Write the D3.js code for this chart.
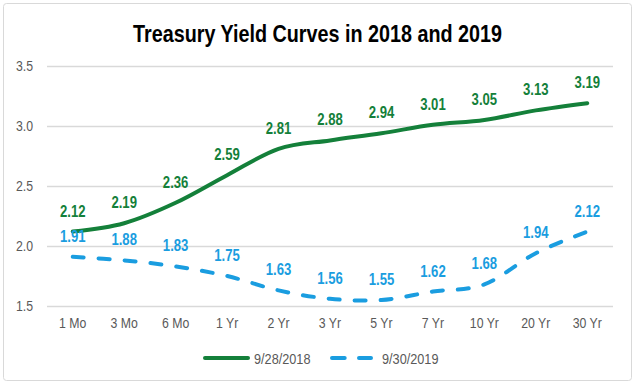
<!DOCTYPE html>
<html>
<head>
<meta charset="utf-8">
<script src="https://cdn.jsdelivr.net/npm/d3@7"></script>
<style>
  body { margin: 0; background: #fff; }
  text { font-family: "Liberation Sans Narrow", "Arial Narrow", "Liberation Sans", Arial, sans-serif; }
</style>
</head>
<body>
<div id="chart"></div>
<script>
// data
var maturities = ['1 Mo', '3 Mo', '6 Mo', '1 Yr', '2 Yr', '3 Yr', '5 Yr', '7 Yr', '10 Yr', '20 Yr', '30 Yr'];
var yields2018 = [2.12, 2.19, 2.36, 2.59, 2.81, 2.88, 2.94, 3.01, 3.05, 3.13, 3.19];
var yields2019 = [1.91, 1.88, 1.83, 1.75, 1.63, 1.56, 1.55, 1.62, 1.68, 1.94, 2.12];
var yTicks = [1.5, 2.0, 2.5, 3.0, 3.5];
var seriesNames = ['9/28/2018', '9/30/2019'];

var svgWidth = 635;
var svgHeight = 385;

var margin = { top: 66, right: 22, bottom: 79, left: 47 };
var width = svgWidth - margin.left - margin.right;
var height = svgHeight - margin.top - margin.bottom;

var green = '#14803a';
var blue = '#1a9de0';
// narrow font squeeze (no Arial Narrow in the sandbox)
var sq = 0.82;

var svg = d3.select('#chart').append('svg')
  .attr('width', svgWidth)
  .attr('height', svgHeight);

// outer border
svg.append('rect')
  .attr('x', 3.5).attr('y', 3.5)
  .attr('width', 628).attr('height', 377)
  .attr('rx', 3)
  .attr('fill', '#fff')
  .attr('stroke', '#d9d9d9');

// title
svg.append('text')
  .attr('x', 133)
  .attr('y', 42)
  .attr('font-size', '24px')
  .attr('font-weight', 'bold')
  .attr('fill', '#000')
  .attr('textLength', 369)
  .attr('lengthAdjust', 'spacingAndGlyphs')
  .text('Treasury Yield Curves in 2018 and 2019');

var chartGroup = svg.append('g')
  .attr('transform', `translate(${margin.left}, ${margin.top})`);

var x = d3.scaleBand().domain(maturities).range([0, width]);
var y = d3.scaleLinear().domain([1.5, 3.5]).range([height, 0]);

// gridlines
chartGroup.selectAll('.grid')
  .data(yTicks)
  .enter()
  .append('line')
  .attr('x1', 0).attr('x2', width)
  .attr('y1', d => Math.round(y(d)) + 0.5)
  .attr('y2', d => Math.round(y(d)) + 0.5)
  .attr('stroke', '#d9d9d9')
  .attr('stroke-width', 1.5);

// y axis labels
var leftAxis = d3.axisLeft(y).tickValues(yTicks).tickFormat(d3.format('.1f')).tickSize(0).tickPadding(14);
var yAxis = chartGroup.append('g').call(leftAxis);
yAxis.select('.domain').remove();
yAxis.selectAll('text')
  .attr('font-size', '15px')
  .attr('fill', '#595959')
  .attr('font-family', null)
  .attr('x', -14 / sq)
  .attr('transform', `scale(${sq},1)`);

// x axis labels
var bottomAxis = d3.axisBottom(x).tickSize(0).tickPadding(11);
var xAxis = chartGroup.append('g')
  .attr('transform', `translate(0, ${height})`)
  .call(bottomAxis);
xAxis.select('.domain').remove();
xAxis.selectAll('text')
  .attr('font-size', '15px')
  .attr('fill', '#595959')
  .attr('font-family', null)
  .attr('transform', `scale(${sq},1)`);

var cx = d => x.bandwidth() / 2 + x(d);

var line = d3.line()
  .x((d, i) => cx(maturities[i]))
  .y(d => y(d))
  .curve(d3.curveCatmullRom.alpha(0));

chartGroup.append('path')
  .datum(yields2019)
  .attr('d', line)
  .attr('fill', 'none')
  .attr('stroke', blue)
  .attr('stroke-width', 4)
  .attr('stroke-linecap', 'round')
  .attr('stroke-dasharray', '11,15');

chartGroup.append('path')
  .datum(yields2018)
  .attr('d', line)
  .attr('fill', 'none')
  .attr('stroke', green)
  .attr('stroke-width', 4)
  .attr('stroke-linecap', 'round');

// data labels
function addLabels(vals, color, cls) {
  chartGroup.selectAll('.' + cls)
    .data(vals)
    .enter()
    .append('text')
    .attr('class', cls)
    .attr('transform', (d, i) => `translate(${cx(maturities[i])}, ${y(d) - 15}) scale(${sq},1)`)
    .attr('text-anchor', 'middle')
    .attr('font-size', '16px')
    .attr('font-weight', 'bold')
    .attr('fill', color)
    .text(d => d.toFixed(2));
}
addLabels(yields2018, green, 'lab2018');
addLabels(yields2019, blue, 'lab2019');

// legend
var legend = svg.append('g').attr('transform', 'translate(0, 358)');
legend.append('line')
  .attr('x1', 205).attr('x2', 248)
  .attr('y1', 0).attr('y2', 0)
  .attr('stroke', green).attr('stroke-width', 4).attr('stroke-linecap', 'round');
legend.append('text')
  .attr('transform', `translate(254, 5.5) scale(${sq},1)`)
  .attr('font-size', '15.5px').attr('fill', '#595959')
  .text(seriesNames[0]);
legend.append('line')
  .attr('x1', 332).attr('x2', 371)
  .attr('y1', 0).attr('y2', 0)
  .attr('stroke', blue).attr('stroke-width', 4).attr('stroke-linecap', 'round')
  .attr('stroke-dasharray', '12.7,14.3');
legend.append('text')
  .attr('transform', `translate(382, 5.5) scale(${sq},1)`)
  .attr('font-size', '15.5px').attr('fill', '#595959')
  .text(seriesNames[1]);
</script>
</body>
</html>
